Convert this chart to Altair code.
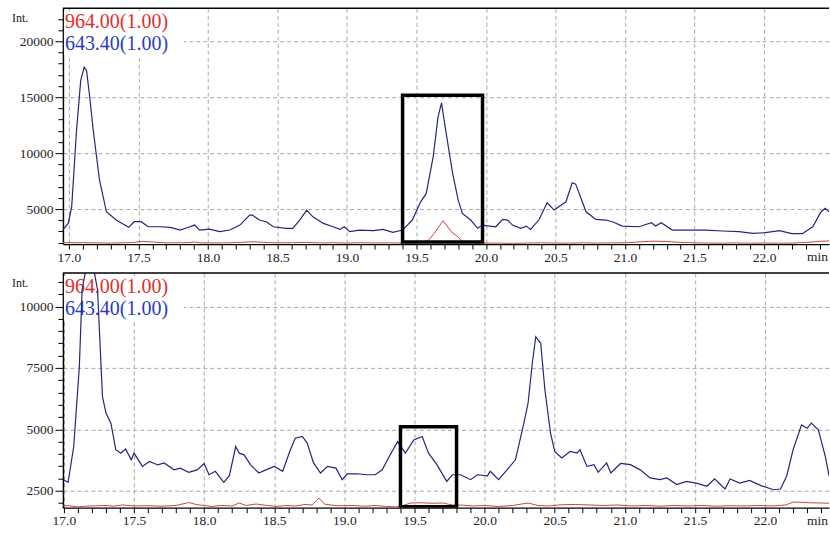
import altair as alt
import pandas as pd

# ---- chromatogram traces (retention time in min, intensity) ----
# upper run, m/z 643.40
top_blue_t = [16.96, 16.995, 17.02, 17.055, 17.085, 17.11, 17.127, 17.15, 17.175, 17.22,
              17.27, 17.34, 17.43, 17.47, 17.52, 17.57, 17.65, 17.73, 17.80, 17.86,
              17.905, 17.94, 18.01, 18.085, 18.157, 18.23, 18.30, 18.32, 18.37, 18.42,
              18.47, 18.56, 18.61, 18.66, 18.71, 18.755, 18.83, 18.90, 18.95, 18.98,
              19.02, 19.09, 19.19, 19.26, 19.33, 19.40, 19.47, 19.53, 19.57, 19.62,
              19.655, 19.68, 19.71, 19.76, 19.80, 19.83, 19.89, 19.94, 19.975, 20.07,
              20.12, 20.155, 20.19, 20.25, 20.29, 20.32, 20.38, 20.44, 20.49, 20.575,
              20.62, 20.645, 20.72, 20.79, 20.86, 20.91, 20.98, 21.10, 21.19, 21.22,
              21.26, 21.34, 21.44, 21.58, 21.70, 21.82, 21.92, 22.01, 22.11, 22.20,
              22.275, 22.35, 22.41, 22.44, 22.467]
top_blue_v = [3200, 3720, 5200, 12050, 16500, 17700, 17400, 15000, 12050, 7600,
              4760, 4020, 3370, 3870, 3870, 3420, 3420, 3370, 3125, 3370,
              3570, 3125, 3210, 2980, 3125, 3570, 4460, 4460, 4020, 3870,
              3420, 3280, 3280, 4020, 4910, 4310, 3720, 3420, 3180, 3420,
              2980, 3125, 3070, 3180, 2920, 3125, 4020, 5650, 6400, 9670,
              13240, 14500, 12050, 8190, 5800, 4610, 4020, 3280, 3570, 3420,
              4080, 4020, 3570, 3280, 3480, 3180, 4020, 5560, 4910, 5650,
              7350, 7230, 4760, 4080, 4020, 3870, 3480, 3420, 3780, 3480,
              3780, 3125, 3125, 3125, 3040, 2980, 2830, 2890, 3070, 2800,
              2800, 3420, 4760, 5060, 4760]

# upper run, m/z 964.00
top_red_t = [16.96, 17.1, 17.3, 17.45, 17.52, 17.6, 17.7, 17.85, 17.9, 17.95,
             18.1, 18.2, 18.33, 18.4, 18.5, 18.6, 18.7, 18.8, 18.9, 19.0,
             19.1, 19.2, 19.3, 19.4, 19.5, 19.58, 19.62, 19.66, 19.69, 19.72,
             19.75, 19.79, 19.83, 19.9, 20.0, 20.1, 20.2, 20.3, 20.4, 20.5,
             20.6, 20.7, 20.8, 20.9, 21.0, 21.1, 21.2, 21.3, 21.4, 21.5,
             21.6, 21.7, 21.8, 21.9, 22.0, 22.1, 22.2, 22.3, 22.4, 22.467]
top_red_v = [2000, 1990, 1960, 2000, 2110, 2060, 1980, 1990, 2050, 1980,
             1970, 2000, 2080, 2010, 1980, 1990, 2020, 1970, 1990, 1960,
             1990, 1970, 1980, 1960, 2000, 2150, 2700, 3400, 3960, 3500,
             2970, 2600, 2100, 2000, 1960, 1950, 1940, 1960, 1980, 1960,
             1950, 1980, 1960, 1970, 1990, 2060, 2130, 2100, 2020, 1980,
             1960, 1950, 1970, 1950, 1960, 1950, 1960, 2010, 2120, 2150]

# lower run, m/z 643.40 (first peak runs off scale)
bot_blue_t = [16.995, 17.03, 17.07, 17.11, 17.13, 17.185, 17.24, 17.275, 17.30, 17.335,
              17.37, 17.405, 17.44, 17.48, 17.50, 17.56, 17.61, 17.67, 17.715, 17.785,
              17.83, 17.89, 17.95, 18.00, 18.035, 18.08, 18.14, 18.18, 18.225, 18.25,
              18.285, 18.33, 18.39, 18.44, 18.50, 18.56, 18.615, 18.65, 18.70, 18.735,
              18.78, 18.83, 18.88, 18.94, 18.985, 19.02, 19.09, 19.16, 19.22, 19.27,
              19.32, 19.38, 19.435, 19.495, 19.555, 19.60, 19.66, 19.73, 19.77, 19.83,
              19.90, 19.95, 20.02, 20.04, 20.10, 20.16, 20.22, 20.28, 20.31, 20.34,
              20.365, 20.40, 20.43, 20.47, 20.50, 20.55, 20.61, 20.66, 20.68, 20.73,
              20.78, 20.81, 20.87, 20.90, 20.97, 21.04, 21.11, 21.18, 21.25, 21.30,
              21.37, 21.44, 21.51, 21.585, 21.64, 21.715, 21.75, 21.82, 21.89, 21.975,
              22.06, 22.11, 22.155, 22.20, 22.26, 22.30, 22.33, 22.38, 22.43, 22.456]
bot_blue_v = [2950, 2840, 4300, 7550, 10670, 12400, 10670, 6330, 5660, 5250,
              4170, 4030, 4200, 3760, 4030, 3490, 3690, 3550, 3630, 3350,
              3420, 3250, 3350, 3610, 3150, 3290, 2840, 3110, 4300, 4030,
              3960, 3560, 3220, 3350, 3490, 3290, 4170, 4640, 4710, 4440,
              3630, 3220, 3490, 3420, 2950, 3190, 3190, 3150, 3150, 3350,
              3890, 4500, 4030, 4570, 4710, 4030, 3560, 2880, 3150, 3150,
              2950, 3150, 3110, 3290, 2950, 3350, 3760, 5250, 6060, 7690,
              8770, 8500, 6610, 4850, 4100, 3830, 4100, 4030, 4170, 3490,
              3560, 3250, 3630, 3220, 3610, 3560, 3350, 3020, 2950, 3020,
              2750, 2880, 2810, 2680, 2980, 2570, 2980, 2810, 2920, 2700,
              2540, 2570, 3110, 4170, 5180, 5040, 5250, 4980, 3890, 3110]

# lower run, m/z 964.00
bot_red_t = [16.995, 17.05, 17.1, 17.15, 17.2, 17.3, 17.35, 17.42, 17.5, 17.6,
             17.7, 17.8, 17.89, 17.95, 18.0, 18.05, 18.12, 18.2, 18.25, 18.3,
             18.37, 18.45, 18.52, 18.58, 18.65, 18.72, 18.77, 18.82, 18.86, 18.95,
             19.05, 19.15, 19.22, 19.3, 19.37, 19.42, 19.47, 19.55, 19.62, 19.7,
             19.77, 19.85, 19.92, 20.0, 20.1, 20.2, 20.31, 20.38, 20.45, 20.55,
             20.65, 20.75, 20.85, 20.95, 21.05, 21.15, 21.25, 21.35, 21.45, 21.55,
             21.65, 21.75, 21.85, 21.95, 22.05, 22.15, 22.2, 22.25, 22.32, 22.4, 22.456]
bot_red_v = [1900, 1880, 1840, 1870, 1880, 1900, 1870, 1920, 1880, 1890,
             1870, 1900, 2020, 1930, 1900, 1860, 1900, 1880, 2000, 1900,
             1960, 1900, 1860, 1900, 1880, 1940, 1920, 2200, 1950, 1890,
             1900, 1870, 1900, 1860, 1840, 1900, 2000, 2010, 1990, 2000,
             1920, 1910, 1880, 1900, 1860, 1900, 2000, 1900, 1880, 1930,
             1940, 1920, 1900, 1920, 1880, 1900, 1870, 1900, 1880, 1900,
             1870, 1890, 1880, 1900, 1880, 1920, 2040, 2030, 2010, 2000, 1990]

# highlighted retention windows: [t start, t end, intensity low, intensity high]
top_box = [19.40, 19.975, 2050, 15180]
bot_box = [19.40, 19.80, 1850, 5100]

series_labels = ["964.00(1.00)", "643.40(1.00)"]
text_colors = ["#e0302a", "#2a3cc0"]
line_colors = ["#c9463e", "#25257f"]

# axis extents and tick grids
top_x_domain = [16.957, 22.467]
bot_x_domain = [16.993, 22.456]
top_y_domain = [1875, 22950]
bot_y_domain = [1809, 11362]
x_ticks = [round(17.0 + 0.1 * i, 1) for i in range(55)]
top_y_ticks = list(range(2000, 23000, 1000))
bot_y_ticks = list(range(2000, 11500, 500))

W = 767
TOP_H = 236
BOT_H = 235
SERIF = "Liberation Serif"


def x_axis():
    major = "abs(datum.value*2-round(datum.value*2))<0.001"
    return alt.Axis(
        values=x_ticks,
        labelExpr=f"{major} ? format(datum.value, '.1f') : ''",
        title=None,
        grid=True,
        gridColor="#a8a8a8",
        gridDash=[4, 3],
        gridWidth=1,
        gridOpacity={"condition": {"test": major, "value": 1}, "value": 0},
        tickSize=5,
        tickColor="black",
        domainColor="black",
        domainWidth=1.3,
        labelFont=SERIF,
        labelFontSize=13.5,
        labelColor="#222222",
        labelPadding=1,
        labelOverlap=False,
        labelFlush=False,
    )


def y_axis(step):
    major = f"datum.value % {step} === 0"
    return alt.Axis(
        values=top_y_ticks if step == 5000 else bot_y_ticks,
        labelExpr=f"{major} ? format(datum.value, 'd') : ''",
        title=None,
        grid=True,
        gridColor="#a8a8a8",
        gridDash=[4, 3],
        gridWidth=1,
        gridOpacity={"condition": {"test": major, "value": 1}, "value": 0},
        tickSize={"condition": {"test": major, "value": 8}, "value": 5},
        tickColor="black",
        domainColor="black",
        domainWidth=1.5,
        labelFont=SERIF,
        labelFontSize=13.5,
        labelColor="#222222",
        labelPadding=2,
        labelOverlap=False,
        labelFlush=False,
    )


def panel(blue_t, blue_v, red_t, red_v, box, xdom, ydom, step, height):
    xs = alt.Scale(domain=xdom, nice=False, zero=False)
    ys = alt.Scale(domain=ydom, nice=False, zero=False)
    xa = x_axis()
    ya = y_axis(step)

    blue = pd.DataFrame({"t": blue_t, "v": blue_v})
    red = pd.DataFrame({"t": red_t, "v": red_v})
    boxdf = pd.DataFrame({"t0": [box[0]], "t1": [box[1]], "v0": [box[2]], "v1": [box[3]]})
    one = pd.DataFrame({"k": [0]})

    red_line = alt.Chart(red).mark_line(color=line_colors[0], strokeWidth=1, clip=True).encode(
        x=alt.X("t:Q", scale=xs, axis=xa), y=alt.Y("v:Q", scale=ys, axis=ya))
    blue_line = alt.Chart(blue).mark_line(color=line_colors[1], strokeWidth=1.2, clip=True).encode(
        x=alt.X("t:Q", scale=xs, axis=xa), y=alt.Y("v:Q", scale=ys, axis=ya))
    frame = alt.Chart(boxdf).mark_rect(fillOpacity=0, stroke="black", strokeWidth=3.5, clip=True).encode(
        x=alt.X("t0:Q", scale=xs, axis=xa), x2="t1",
        y=alt.Y("v0:Q", scale=ys, axis=ya), y2="v1")

    # top border of the plot area
    top_rule = alt.Chart(one).mark_rule(color="black", strokeWidth=1.5).encode(
        x=alt.value(0), x2=alt.value(W), y=alt.value(0))
    # white box behind the series labels
    label_bg = alt.Chart(one).mark_rect(color="white").encode(
        x=alt.value(1), x2=alt.value(121), y=alt.value(3), y2=alt.value(47))
    lab1 = alt.Chart(one).mark_text(text=series_labels[0], font=SERIF, fontSize=20,
                                    color=text_colors[0], align="left", baseline="alphabetic").encode(
        x=alt.value(2), y=alt.value(20))
    lab2 = alt.Chart(one).mark_text(text=series_labels[1], font=SERIF, fontSize=20,
                                    color=text_colors[1], align="left", baseline="alphabetic").encode(
        x=alt.value(2), y=alt.value(42))
    int_lab = alt.Chart(one).mark_text(text="Int.", font=SERIF, fontSize=12, color="#222222",
                                       align="left", baseline="alphabetic").encode(
        x=alt.value(-51), y=alt.value(14))
    min_lab = alt.Chart(one).mark_text(text="min", font=SERIF, fontSize=13.5, color="#222222",
                                       align="right", baseline="top").encode(
        x=alt.value(W - 1), y=alt.value(height + 6))

    return alt.layer(label_bg, lab1, lab2, red_line, blue_line, frame, top_rule,
                     int_lab, min_lab).properties(width=W, height=height)


top = panel(top_blue_t, top_blue_v, top_red_t, top_red_v, top_box,
            top_x_domain, top_y_domain, 5000, TOP_H)
bottom = panel(bot_blue_t, bot_blue_v, bot_red_t, bot_red_v, bot_box,
               bot_x_domain, bot_y_domain, 2500, BOT_H)

chart = alt.vconcat(top, bottom, spacing=29, bounds="flush").properties(
    padding={"left": 12, "top": 7, "right": 0, "bottom": 2},
    background="white",
).configure_view(stroke=None)

chart.save("out.html", embed_options={"renderer": "svg", "actions": False})
